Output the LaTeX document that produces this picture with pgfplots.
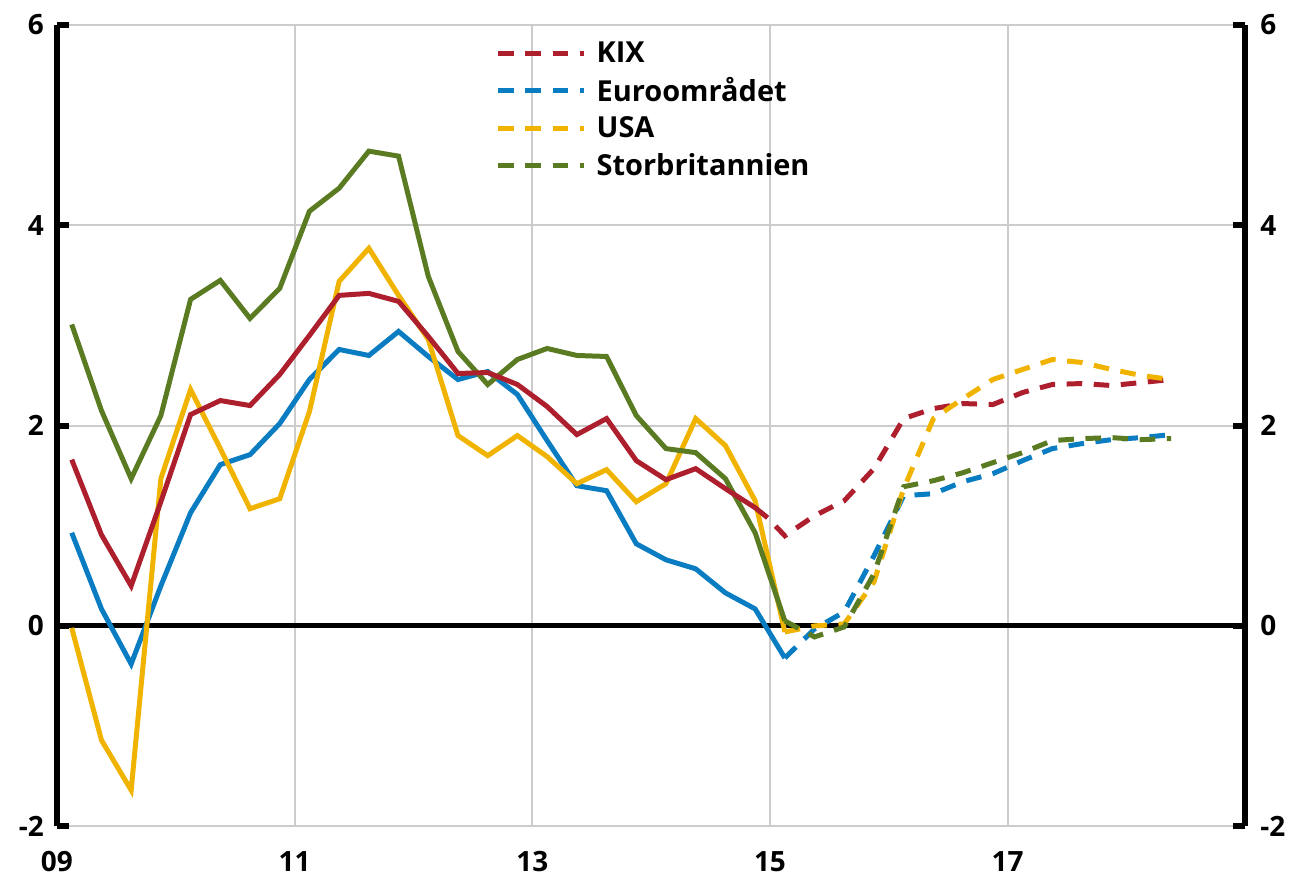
\documentclass[border=0pt]{standalone}
\usepackage{pgfplots}
\pgfplotsset{compat=1.18}
\usepackage{fontspec}
\setmainfont{Open Sans}
\definecolor{kix}{HTML}{AE1F2D}
\definecolor{euro}{HTML}{0A7CC2}
\definecolor{usa}{HTML}{F0B400}
\definecolor{uk}{HTML}{5A7B22}
\definecolor{gridc}{HTML}{CCCCCC}
\begin{document}
\begin{tikzpicture}
\pgfplotsset{
  base/.style={
    scale only axis, width=595.5pt, height=401.5pt,
    xmin=2009, xmax=2019, ymin=-2, ymax=6,
    ytick={-2,0,2,4,6},
    /pgf/number format/assume math mode=true,
    tick label style={font=\bfseries\fontsize{14}{16}\selectfont},
  },
  dsh/.style={line width=2.5pt, dash pattern=on 7.8pt off 5.8pt},
  sol/.style={line width=2.5pt},
}
\begin{axis}[base,
  xtick={2009,2011,2013,2015,2017},
  xticklabels={09,11,13,15,17},
  xmajorgrids, ymajorgrids,
  grid style={gridc, line width=1pt},
  extra y ticks={0}, extra y tick labels={},
  extra y tick style={grid style={black, line width=2.5pt}, major tick length=0pt},
  separate axis lines,
  x axis line style={draw=none},
  y axis line style={draw=black, line width=3pt},
  ytick pos=both, yticklabel pos=left,
  tick align=inside, major tick length=6pt,
  y tick style={black, line width=3pt},
  x tick style={draw=none},
  xticklabel style={yshift=-9pt},
  yticklabel style={xshift=-3pt},
  legend style={at={(rel axis cs:0.369,0.985)}, anchor=north west, draw=none, fill=none,
    font=\bfseries\fontsize{14.5}{16}\selectfont, row sep=2.2pt, inner sep=0pt},
  legend cell align=left,
  legend image code/.code={\draw[#1, dash phase=0pt] (0pt,0pt) -- (43pt,0pt); \path (46pt,0pt);},
]
% solid histories
\addplot[sol, euro, forget plot] coordinates {
(2009.125,0.93)(2009.375,0.17)(2009.625,-0.38)(2009.875,0.40)
(2010.125,1.13)(2010.375,1.61)(2010.625,1.71)(2010.875,2.02)
(2011.125,2.46)(2011.375,2.76)(2011.625,2.70)(2011.875,2.94)
(2012.125,2.69)(2012.375,2.46)(2012.625,2.54)(2012.875,2.31)
(2013.125,1.85)(2013.375,1.40)(2013.625,1.35)(2013.875,0.82)
(2014.125,0.66)(2014.375,0.57)(2014.625,0.33)(2014.875,0.17)
(2015.125,-0.32)};
\addplot[sol, usa, forget plot] coordinates {
(2009.125,-0.02)(2009.375,-1.14)(2009.625,-1.64)(2009.875,1.47)
(2010.125,2.36)(2010.375,1.77)(2010.625,1.17)(2010.875,1.27)
(2011.125,2.14)(2011.375,3.44)(2011.625,3.77)(2011.875,3.30)
(2012.125,2.86)(2012.375,1.90)(2012.625,1.70)(2012.875,1.90)
(2013.125,1.69)(2013.375,1.42)(2013.625,1.56)(2013.875,1.24)
(2014.125,1.42)(2014.375,2.07)(2014.625,1.80)(2014.875,1.25)
(2015.125,-0.06)};
\addplot[sol, uk, forget plot] coordinates {
(2009.125,3.01)(2009.375,2.15)(2009.625,1.47)(2009.875,2.10)
(2010.125,3.26)(2010.375,3.45)(2010.625,3.07)(2010.875,3.37)
(2011.125,4.14)(2011.375,4.37)(2011.625,4.74)(2011.875,4.69)
(2012.125,3.49)(2012.375,2.74)(2012.625,2.41)(2012.875,2.66)
(2013.125,2.77)(2013.375,2.70)(2013.625,2.69)(2013.875,2.10)
(2014.125,1.77)(2014.375,1.73)(2014.625,1.47)(2014.875,0.93)
(2015.125,0.05)};
\addplot[sol, kix, forget plot] coordinates {
(2009.125,1.66)(2009.375,0.91)(2009.625,0.40)(2009.875,1.24)
(2010.125,2.11)(2010.375,2.25)(2010.625,2.20)(2010.875,2.51)
(2011.125,2.90)(2011.375,3.30)(2011.625,3.32)(2011.875,3.24)
(2012.125,2.89)(2012.375,2.52)(2012.625,2.53)(2012.875,2.41)
(2013.125,2.19)(2013.375,1.91)(2013.625,2.07)(2013.875,1.65)
(2014.125,1.46)(2014.375,1.57)(2014.625,1.37)(2014.875,1.18)
(2014.98,1.08)};
% dashed forecasts
\addplot[dsh, kix, dash phase=7.8pt] coordinates {
(2014.98,1.08)(2015.125,0.90)(2015.375,1.10)(2015.625,1.25)(2015.875,1.57)
(2016.125,2.07)(2016.375,2.17)(2016.625,2.22)(2016.875,2.21)
(2017.125,2.33)(2017.375,2.41)(2017.625,2.42)(2017.875,2.40)
(2018.125,2.43)(2018.375,2.46)};
\addlegendentry{KIX}
\addplot[dsh, euro] coordinates {
(2015.125,-0.32)(2015.375,-0.03)(2015.625,0.14)(2015.875,0.70)
(2016.125,1.30)(2016.375,1.32)(2016.625,1.44)(2016.875,1.52)
(2017.125,1.65)(2017.375,1.77)(2017.625,1.82)(2017.875,1.86)
(2018.125,1.88)(2018.375,1.91)};
\addlegendentry{Euroområdet}
\addplot[dsh, usa] coordinates {
(2015.125,-0.06)(2015.375,0.00)(2015.625,0.02)(2015.875,0.44)
(2016.125,1.37)(2016.375,2.07)(2016.625,2.27)(2016.875,2.46)
(2017.125,2.56)(2017.375,2.66)(2017.625,2.63)(2017.875,2.56)
(2018.125,2.50)(2018.375,2.46)};
\addlegendentry{USA}
\addplot[dsh, uk] coordinates {
(2015.125,0.05)(2015.375,-0.11)(2015.625,-0.01)(2015.875,0.52)
(2016.125,1.39)(2016.375,1.45)(2016.625,1.53)(2016.875,1.63)
(2017.125,1.73)(2017.375,1.85)(2017.625,1.87)(2017.875,1.88)
(2018.125,1.86)(2018.375,1.87)};
\addlegendentry{Storbritannien}
\end{axis}
\begin{axis}[base,
  hide x axis,
  axis y line*=right,
  y axis line style={draw=none},
  y tick style={draw=none},
  yticklabel style={xshift=4pt},
]
\end{axis}
\path (current axis.south west) ++(-28.5pt,-25pt) coordinate (bbA);
\path (current axis.north east) ++(22pt,12.5pt) coordinate (bbB);
\path (bbA) rectangle (bbB);
\end{tikzpicture}
\end{document}
